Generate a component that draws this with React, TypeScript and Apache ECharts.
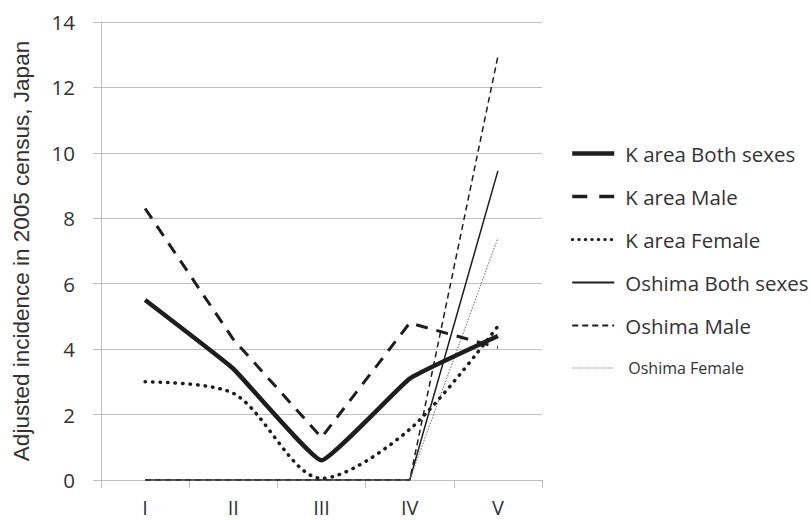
import React, { useEffect, useRef } from "react";
import * as echarts from "echarts";

const categories = ["I", "II", "III", "IV", "V"];
const yTicks = [0, 2, 4, 6, 8, 10, 12, 14];
const kBoth = [5.5, 3.4, 0.6, 3.1, 4.4];
const kMale = [8.3, 4.3, 1.3, 4.8, 4.05];
const kFemale = [3.0, 2.65, 0.05, 1.55, 4.7];
const oBoth = [0, 0, 0, 0, 9.45];
const oMale = [0, 0, 0, 0, 12.95];
const oFemale = [0, 0, 0, 0, 7.4];
const seriesNames = [
  "K area Both sexes",
  "K area Male",
  "K area Female",
  "Oshima Both sexes",
  "Oshima Male",
  "Oshima Female",
];

const FONT = "Open Sans";
const INK = "#1e1e1e";

const styles: any[] = [
  { color: INK, width: 4.5, type: "solid" },
  { color: INK, width: 3, type: [12, 9] },
  { color: INK, width: 3.5, type: [0.5, 7], cap: "round" },
  { color: INK, width: 1.5, type: "solid" },
  { color: INK, width: 1.5, type: [6, 4] },
  { color: "#666", width: 1, type: [1.5, 1.5] },
];
const legendStyles: any[] = [
  { color: INK, width: 4.5, type: "solid" },
  { color: INK, width: 3.5, type: [15, 12] },
  { color: INK, width: 3, type: [0.5, 6], cap: "round" },
  { color: INK, width: 1.8, type: "solid" },
  { color: INK, width: 1.8, type: [6, 4] },
  { color: "#777", width: 1, type: [1, 1] },
];

export default function App() {
  const ref = useRef<HTMLDivElement>(null);
  useEffect(() => {
    document.body.style.margin = "0";
    if (!ref.current) return;
    const chart = echarts.init(ref.current, undefined, { renderer: "svg" });
    const base = (i: number, data: number[], smooth: number | boolean) => ({
      name: seriesNames[i],
      type: "line",
      data,
      symbol: "none",
      smooth,
      lineStyle: styles[i],
      itemStyle: { color: styles[i].color },
      z: 3,
    });
    chart.setOption({
      animation: false,
      backgroundColor: "#ffffff",
      grid: { left: 101, right: 269, top: 22, bottom: 40, containLabel: false },
      xAxis: {
        type: "category",
        data: categories,
        boundaryGap: true,
        axisLine: { show: true, lineStyle: { color: "#bfbfbf", width: 1 } },
        axisTick: { show: true, length: 8, lineStyle: { color: "#bfbfbf" } },
        axisLabel: { color: "#333", fontSize: 20, fontFamily: FONT, margin: 17 },
        splitLine: { show: false },
      },
      yAxis: {
        type: "value",
        min: yTicks[0],
        max: yTicks[yTicks.length - 1],
        interval: 2,
        name: "Adjusted incidence in 2005 census, Japan",
        nameLocation: "middle",
        nameRotate: 90,
        nameGap: 68,
        nameTextStyle: { color: "#333", fontSize: 22.5, fontFamily: "Liberation Sans" },
        axisLine: { show: true, lineStyle: { color: "#bfbfbf", width: 1 } },
        axisTick: { show: true, length: 8, lineStyle: { color: "#bfbfbf" } },
        axisLabel: { color: "#333", fontSize: 20.5, fontFamily: FONT, margin: 26 },
        splitLine: { show: true, lineStyle: { color: "#bfbfbf", width: 1 } },
      },
      legend: {
        orient: "vertical",
        left: 570,
        top: 143,
        padding: 0,
        itemWidth: 42,
        itemHeight: 20,
        itemGap: 22,
        itemStyle: { opacity: 0 },
        textStyle: { color: "#333", fontSize: 20.5, fontFamily: FONT, lineHeight: 20, padding: [0, 0, 0, 6] },
        data: seriesNames.map((n, i) => ({
          name: n,
          lineStyle: legendStyles[i],
          itemStyle: { opacity: 0 },
          ...(i === 5 ? { textStyle: { fontSize: 16, lineHeight: 20, padding: [0, 0, 0, 9] } } : {}),
        })),
      },
      series: [
        base(3, oBoth, false),
        base(4, oMale, false),
        base(5, oFemale, false),
        base(0, kBoth, 0.1),
        base(1, kMale, false),
        base(2, kFemale, 0.3),
      ],
    });
    return () => chart.dispose();
  }, []);
  return <div ref={ref} style={{ width: 811, height: 520 }} />;
}
